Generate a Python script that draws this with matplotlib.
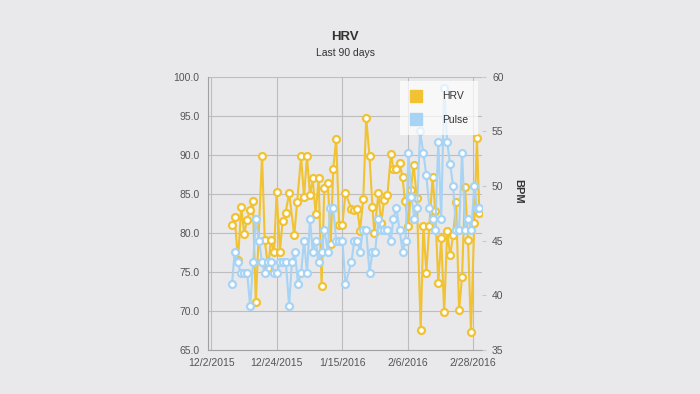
import matplotlib
matplotlib.use("Agg")
import matplotlib.pyplot as plt
import matplotlib.dates as mdates
from matplotlib.lines import Line2D
import numpy as np
import pandas as pd

plt.rcParams['font.family'] = ['Liberation Sans', 'DejaVu Sans']

START = pd.Timestamp("2015-12-02")

# HRV readings: (days since 12/2/2015, value)
hrv_days = [7.0, 7.9, 9.0, 10.1, 11.1, 12.1, 13.0, 14.0, 15.0, 17.1, 18.0, 19.1, 20.1, 21.1,
            22.0, 23.1, 24.0, 25.0, 26.2, 27.9, 28.9, 30.2, 31.2, 32.2, 33.2, 34.1, 35.1, 36.1,
            37.1, 38.0, 39.2, 40.2, 41.0, 42.0, 43.0, 44.1, 45.1, 47.1, 48.0, 49.1, 50.0, 51.1,
            52.1, 53.2, 54.2, 54.8, 56.2, 57.1, 58.1, 59.2, 60.4, 61.2, 62.2, 63.3, 64.3, 65.1,
            66.3, 67.1, 68.0, 69.1, 70.4, 71.3, 72.3, 73.3, 74.4, 75.3, 76.3, 77.3, 78.3, 79.3,
            80.3, 81.3, 82.3, 83.3, 84.3, 85.3, 86.3, 87.3, 88.4, 89.3, 90.1]
hrv_vals = [81.0, 82.0, 76.5, 83.3, 79.9, 81.7, 82.9, 84.1, 71.1, 89.9, 79.1, 75.5, 79.1, 77.5,
            85.2, 77.6, 81.5, 82.6, 85.1, 79.7, 84.0, 89.8, 84.6, 89.8, 84.8, 87.0, 82.4, 87.0,
            73.2, 85.7, 86.4, 78.6, 88.2, 92.0, 81.0, 81.0, 85.1, 83.1, 82.9, 83.1, 80.3, 84.3,
            94.7, 89.8, 83.3, 80.0, 85.1, 81.2, 84.2, 84.8, 90.1, 88.2, 88.2, 89.0, 87.1, 84.1,
            80.9, 85.5, 88.7, 84.5, 67.5, 80.9, 74.9, 80.9, 87.1, 82.8, 73.6, 79.3, 69.8, 80.2,
            77.1, 79.7, 84.0, 70.1, 74.4, 85.9, 79.1, 67.3, 81.2, 92.1, 82.5]

# Pulse readings (BPM)
pulse_days = [7.0, 7.9, 8.9, 10.0, 11.1, 12.1, 13.1, 14.1, 15.0, 16.1, 17.1, 18.1, 19.2, 20.1,
              21.2, 22.1, 23.1, 24.1, 25.1, 26.2, 27.1, 28.1, 29.2, 30.2, 31.2, 32.2, 33.2, 34.1,
              35.1, 36.1, 37.1, 38.0, 39.2, 39.9, 41.0, 42.0, 43.0, 44.1, 45.1, 47.1, 48.1, 49.1,
              50.1, 50.9, 52.1, 53.2, 54.2, 55.1, 56.2, 57.1, 58.2, 59.2, 60.4, 61.2, 62.2, 63.3,
              64.3, 65.3, 66.3, 67.3, 68.3, 69.2, 70.2, 71.3, 72.3, 73.3, 74.4, 75.3, 76.3, 77.3,
              78.3, 79.3, 80.3, 81.3, 82.3, 83.3, 84.3, 85.4, 86.4, 87.4, 88.4, 89.3, 90.1]
pulse_vals = [41, 44, 43, 42, 42, 42, 39, 43, 47, 45, 43, 42, 43, 43,
              42, 42, 43, 43, 43, 39, 43, 44, 41, 42, 45, 42, 47, 44,
              45, 43, 44, 46, 44, 48, 48, 45, 45, 45, 41, 43, 45, 45,
              44, 46, 46, 42, 44, 44, 47, 46, 46, 46, 45, 47, 48, 46,
              44, 45, 53, 49, 47, 48, 55, 53, 51, 48, 47, 46, 54, 47,
              59, 54, 52, 50, 46, 46, 53, 46, 47, 46, 50, 48, 48]

tick_dates = ["2015-12-02", "2015-12-24", "2016-01-15", "2016-02-06", "2016-02-28"]

HRV_COLOR = '#f1c232'
PULSE_COLOR = '#a7d3f4'
BG = '#e9e9eb'
GRID = '#bdbdbf'
TXT = '#555555'


def to_dates(days):
    return [START + pd.Timedelta(days=d) for d in days]


fig = plt.figure(figsize=(7, 3.94), dpi=100, facecolor=BG)
ax = fig.add_axes([0.297, 0.112, 0.392, 0.693], facecolor=BG)
ax2 = ax.twinx()

ax.plot(to_dates(hrv_days), hrv_vals, color=HRV_COLOR, lw=1.5, marker='o',
        ms=5, mfc='white', mec=HRV_COLOR, mew=1.6, zorder=3)
ax2.plot(to_dates(pulse_days), pulse_vals, color=PULSE_COLOR, lw=1.5, marker='o',
         ms=5, mfc='white', mec=PULSE_COLOR, mew=1.6, zorder=3)

ax.set_xlim(START - pd.Timedelta(days=1.1), START + pd.Timedelta(days=91.1))
ax.set_ylim(65, 100)
ax.set_yticks(np.arange(65, 101, 5))
ax.yaxis.set_major_formatter(plt.FuncFormatter(lambda v, p: f"{v:.1f}"))
ax2.set_ylim(35, 60)
ax2.set_yticks(np.arange(35, 61, 5))

ax.set_xticks([pd.Timestamp(d) for d in tick_dates])
ax.xaxis.set_major_formatter(plt.FuncFormatter(
    lambda v, p: (lambda t: f"{t.month}/{t.day}/{t.year}")(mdates.num2date(v))))

ax.grid(True, color=GRID, lw=0.8)
ax.set_axisbelow(True)
for a in (ax, ax2):
    for s in ('top', 'right', 'left', 'bottom'):
        a.spines[s].set_visible(False)
ax.spines['left'].set_visible(True)
ax.spines['bottom'].set_visible(True)
ax.spines['left'].set_color('#a0a0a2')
ax.spines['bottom'].set_color('#a0a0a2')

ax.tick_params(axis='both', length=0, labelsize=7.5, labelcolor=TXT, pad=6)
ax2.tick_params(axis='y', length=3, color='#c8c8c8', labelsize=7.5, labelcolor=TXT, pad=4)

ax2.set_ylabel("BPM", rotation=270, fontsize=8, fontweight='bold', color='#333333')
ax2.yaxis.set_label_coords(1.15, 0.58)

fig.text(0.493, 0.905, "HRV", ha='center', va='center', fontsize=9.5,
         fontweight='bold', color='#333333')
fig.text(0.493, 0.866, "Last 90 days", ha='center', va='center', fontsize=7.5,
         color='#333333')

handles = [Line2D([], [], ls='none', marker='s', ms=8, color=HRV_COLOR),
           Line2D([], [], ls='none', marker='s', ms=8, color=PULSE_COLOR)]
leg = ax2.legend(handles, ["HRV", "Pulse"], loc='upper right',
                 bbox_to_anchor=(0.985, 0.985), frameon=True, fontsize=7.5,
                 handlelength=1, handletextpad=2.0, labelspacing=1.3,
                 borderpad=1.0, borderaxespad=0)
leg.get_frame().set_facecolor('white')
leg.get_frame().set_alpha(0.7)
leg.get_frame().set_edgecolor('none')
leg.get_frame().set_boxstyle('square', pad=0)
for t in leg.get_texts():
    t.set_color('#333333')

fig.savefig("out.png", dpi=100, facecolor=BG)
